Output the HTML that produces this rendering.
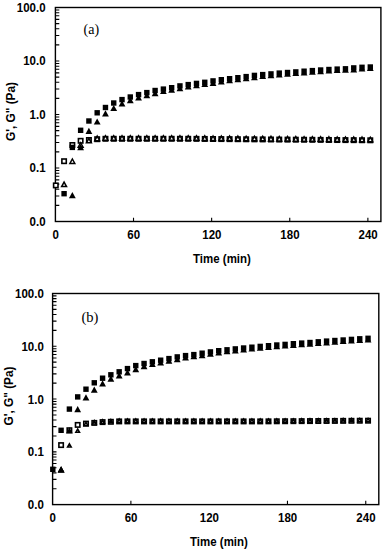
<!DOCTYPE html>
<html><head><meta charset="utf-8"><title>G' G'' vs time</title>
<style>html,body{margin:0;padding:0;background:#fff;}body{width:385px;height:550px;overflow:hidden;}svg{display:block;}</style>
</head><body>
<svg width="385" height="550" viewBox="0 0 385 550">
<style>.t{font-family:"Liberation Sans",sans-serif;font-weight:bold;font-size:11.5px;fill:#000}.s{font-family:"Liberation Serif",serif;font-size:14px;fill:#000}</style>
<path d="M55.40 205.39h3.9 M55.40 195.97h3.9 M55.40 189.29h3.9 M55.40 184.11h3.9 M55.40 179.87h3.9 M55.40 176.29h3.9 M55.40 173.18h3.9 M55.40 170.45h3.9 M55.40 168.00h3.9 M55.40 151.89h3.9 M55.40 142.47h3.9 M55.40 135.79h3.9 M55.40 130.61h3.9 M55.40 126.37h3.9 M55.40 122.79h3.9 M55.40 119.68h3.9 M55.40 116.95h3.9 M55.40 114.50h3.9 M55.40 98.39h3.9 M55.40 88.97h3.9 M55.40 82.29h3.9 M55.40 77.11h3.9 M55.40 72.87h3.9 M55.40 69.29h3.9 M55.40 66.18h3.9 M55.40 63.45h3.9 M55.40 61.00h3.9 M55.40 44.89h3.9 M55.40 35.47h3.9 M55.40 28.79h3.9 M55.40 23.61h3.9 M55.40 19.37h3.9 M55.40 15.79h3.9 M55.40 12.68h3.9 M55.40 9.95h3.9 M133.52 221.50v-3.8 M211.64 221.50v-3.8 M289.76 221.50v-3.8 M367.88 221.50v-3.8" stroke="#000" stroke-width="1.1" fill="none"/>
<rect x="55.40" y="7.50" width="325.50" height="214.00" fill="none" stroke="#000" stroke-width="1.4"/>
<text class="t" transform="translate(45.60,221.30) scale(1,1.1)" x="0" y="3.96" text-anchor="end">0.0</text>
<text class="t" transform="translate(45.60,167.80) scale(1,1.1)" x="0" y="3.96" text-anchor="end">0.1</text>
<text class="t" transform="translate(45.60,114.30) scale(1,1.1)" x="0" y="3.96" text-anchor="end">1.0</text>
<text class="t" transform="translate(45.60,60.80) scale(1,1.1)" x="0" y="3.96" text-anchor="end">10.0</text>
<text class="t" transform="translate(45.60,7.30) scale(1,1.1)" x="0" y="3.96" text-anchor="end">100.0</text>
<text class="t" transform="translate(55.60,234.60) scale(1,1.1)" x="0" y="3.96" text-anchor="middle">0</text>
<text class="t" transform="translate(133.72,234.60) scale(1,1.1)" x="0" y="3.96" text-anchor="middle">60</text>
<text class="t" transform="translate(211.84,234.60) scale(1,1.1)" x="0" y="3.96" text-anchor="middle">120</text>
<text class="t" transform="translate(289.96,234.60) scale(1,1.1)" x="0" y="3.96" text-anchor="middle">180</text>
<text class="t" transform="translate(368.08,234.60) scale(1,1.1)" x="0" y="3.96" text-anchor="middle">240</text>
<text class="t" transform="translate(193.00,258.80) scale(1,1.1)" x="0" y="3.96" text-anchor="start">Time (min)</text>
<text class="t" style="font-size:11.8px" x="0" y="0" text-anchor="middle" transform="translate(15.00,111.50) rotate(-90) scale(1,1.13)">G', G" (Pa)</text>
<text class="s" style="font-size:14px" x="83.60" y="33.80">(a)</text>
<g fill="#fff" stroke="#000" stroke-width="1.6"><rect x="53.60" y="183.20" width="4.40" height="4.40"/><rect x="61.88" y="159.00" width="4.40" height="4.40"/><rect x="70.15" y="142.80" width="4.40" height="4.40"/><rect x="78.43" y="138.60" width="4.40" height="4.40"/><rect x="86.70" y="137.80" width="4.40" height="4.40"/><rect x="94.98" y="137.00" width="4.40" height="4.40"/><rect x="103.26" y="136.60" width="4.40" height="4.40"/><rect x="111.53" y="136.60" width="4.40" height="4.40"/><rect x="119.81" y="136.60" width="4.40" height="4.40"/><rect x="128.08" y="136.60" width="4.40" height="4.40"/><rect x="136.36" y="136.60" width="4.40" height="4.40"/><rect x="144.64" y="136.60" width="4.40" height="4.40"/><rect x="152.91" y="136.60" width="4.40" height="4.40"/><rect x="161.19" y="136.60" width="4.40" height="4.40"/><rect x="169.46" y="136.60" width="4.40" height="4.40"/><rect x="177.74" y="136.60" width="4.40" height="4.40"/><rect x="186.02" y="136.60" width="4.40" height="4.40"/><rect x="194.29" y="136.67" width="4.40" height="4.40"/><rect x="202.57" y="136.74" width="4.40" height="4.40"/><rect x="210.84" y="136.80" width="4.40" height="4.40"/><rect x="219.12" y="136.87" width="4.40" height="4.40"/><rect x="227.40" y="136.94" width="4.40" height="4.40"/><rect x="235.67" y="137.01" width="4.40" height="4.40"/><rect x="243.95" y="137.08" width="4.40" height="4.40"/><rect x="252.22" y="137.15" width="4.40" height="4.40"/><rect x="260.50" y="137.21" width="4.40" height="4.40"/><rect x="268.78" y="137.28" width="4.40" height="4.40"/><rect x="277.05" y="137.35" width="4.40" height="4.40"/><rect x="285.33" y="137.42" width="4.40" height="4.40"/><rect x="293.60" y="137.49" width="4.40" height="4.40"/><rect x="301.88" y="137.55" width="4.40" height="4.40"/><rect x="310.16" y="137.62" width="4.40" height="4.40"/><rect x="318.43" y="137.69" width="4.40" height="4.40"/><rect x="326.71" y="137.76" width="4.40" height="4.40"/><rect x="334.98" y="137.83" width="4.40" height="4.40"/><rect x="343.26" y="137.90" width="4.40" height="4.40"/><rect x="351.54" y="137.96" width="4.40" height="4.40"/><rect x="359.81" y="138.03" width="4.40" height="4.40"/><rect x="368.09" y="138.10" width="4.40" height="4.40"/></g>
<g fill="#fff" stroke="#000" stroke-width="1.5" stroke-linejoin="miter"><polygon points="61.63,186.55 66.53,186.55 64.08,182.05"/><polygon points="69.90,163.45 74.80,163.45 72.35,158.95"/><polygon points="78.18,147.25 83.08,147.25 80.63,142.75"/><polygon points="86.45,142.85 91.35,142.85 88.90,138.35"/><polygon points="94.73,140.65 99.63,140.65 97.18,136.15"/><polygon points="103.01,140.25 107.91,140.25 105.46,135.75"/><polygon points="111.28,140.25 116.18,140.25 113.73,135.75"/><polygon points="119.56,140.25 124.46,140.25 122.01,135.75"/><polygon points="127.83,140.25 132.73,140.25 130.28,135.75"/><polygon points="136.11,140.25 141.01,140.25 138.56,135.75"/><polygon points="144.39,140.25 149.29,140.25 146.84,135.75"/><polygon points="152.66,140.25 157.56,140.25 155.11,135.75"/><polygon points="160.94,140.25 165.84,140.25 163.39,135.75"/><polygon points="169.21,140.25 174.11,140.25 171.66,135.75"/><polygon points="177.49,140.25 182.39,140.25 179.94,135.75"/><polygon points="185.77,140.25 190.67,140.25 188.22,135.75"/><polygon points="194.04,140.32 198.94,140.32 196.49,135.82"/><polygon points="202.32,140.39 207.22,140.39 204.77,135.89"/><polygon points="210.59,140.45 215.49,140.45 213.04,135.95"/><polygon points="218.87,140.52 223.77,140.52 221.32,136.02"/><polygon points="227.15,140.59 232.05,140.59 229.60,136.09"/><polygon points="235.42,140.66 240.32,140.66 237.87,136.16"/><polygon points="243.70,140.73 248.60,140.73 246.15,136.23"/><polygon points="251.97,140.80 256.87,140.80 254.42,136.30"/><polygon points="260.25,140.86 265.15,140.86 262.70,136.36"/><polygon points="268.53,140.93 273.43,140.93 270.98,136.43"/><polygon points="276.80,141.00 281.70,141.00 279.25,136.50"/><polygon points="285.08,141.07 289.98,141.07 287.53,136.57"/><polygon points="293.35,141.14 298.25,141.14 295.80,136.64"/><polygon points="301.63,141.20 306.53,141.20 304.08,136.70"/><polygon points="309.91,141.27 314.81,141.27 312.36,136.77"/><polygon points="318.18,141.34 323.08,141.34 320.63,136.84"/><polygon points="326.46,141.41 331.36,141.41 328.91,136.91"/><polygon points="334.73,141.48 339.63,141.48 337.18,136.98"/><polygon points="343.01,141.55 347.91,141.55 345.46,137.05"/><polygon points="351.29,141.61 356.19,141.61 353.74,137.11"/><polygon points="359.56,141.68 364.46,141.68 362.01,137.18"/><polygon points="367.84,141.75 372.74,141.75 370.29,137.25"/></g>
<g fill="#000"><rect x="61.38" y="191.00" width="5.4" height="5.4"/><rect x="69.65" y="144.70" width="5.4" height="5.4"/><rect x="77.93" y="127.60" width="5.4" height="5.4"/><rect x="86.20" y="118.30" width="5.4" height="5.4"/><rect x="94.48" y="110.10" width="5.4" height="5.4"/><rect x="102.76" y="104.80" width="5.4" height="5.4"/><rect x="111.03" y="100.30" width="5.4" height="5.4"/><rect x="119.31" y="96.90" width="5.4" height="5.4"/><rect x="127.58" y="94.30" width="5.4" height="5.4"/><rect x="135.86" y="91.90" width="5.4" height="5.4"/><rect x="144.14" y="89.90" width="5.4" height="5.4"/><rect x="152.41" y="87.80" width="5.4" height="5.4"/><rect x="160.69" y="86.40" width="5.4" height="5.4"/><rect x="168.96" y="85.00" width="5.4" height="5.4"/><rect x="177.24" y="83.20" width="5.4" height="5.4"/><rect x="185.52" y="81.90" width="5.4" height="5.4"/><rect x="193.79" y="80.70" width="5.4" height="5.4"/><rect x="202.07" y="79.60" width="5.4" height="5.4"/><rect x="210.34" y="78.20" width="5.4" height="5.4"/><rect x="218.62" y="77.00" width="5.4" height="5.4"/><rect x="226.90" y="76.00" width="5.4" height="5.4"/><rect x="235.17" y="75.00" width="5.4" height="5.4"/><rect x="243.45" y="73.90" width="5.4" height="5.4"/><rect x="251.72" y="72.70" width="5.4" height="5.4"/><rect x="260.00" y="71.90" width="5.4" height="5.4"/><rect x="268.28" y="71.20" width="5.4" height="5.4"/><rect x="276.55" y="70.40" width="5.4" height="5.4"/><rect x="284.83" y="69.80" width="5.4" height="5.4"/><rect x="293.10" y="69.20" width="5.4" height="5.4"/><rect x="301.38" y="68.50" width="5.4" height="5.4"/><rect x="309.66" y="67.90" width="5.4" height="5.4"/><rect x="317.93" y="67.30" width="5.4" height="5.4"/><rect x="326.21" y="66.80" width="5.4" height="5.4"/><rect x="334.48" y="66.40" width="5.4" height="5.4"/><rect x="342.76" y="66.10" width="5.4" height="5.4"/><rect x="351.04" y="65.20" width="5.4" height="5.4"/><rect x="359.31" y="64.60" width="5.4" height="5.4"/><rect x="367.59" y="64.30" width="5.4" height="5.4"/></g>
<g fill="#000"><polygon points="68.95,198.30 75.75,198.30 72.35,192.10"/><polygon points="77.23,150.30 84.03,150.30 80.63,144.10"/><polygon points="85.50,133.90 92.30,133.90 88.90,127.70"/><polygon points="93.78,124.60 100.58,124.60 97.18,118.40"/><polygon points="102.06,116.40 108.86,116.40 105.46,110.20"/><polygon points="110.33,111.10 117.13,111.10 113.73,104.90"/><polygon points="118.61,106.60 125.41,106.60 122.01,100.40"/><polygon points="126.88,103.20 133.68,103.20 130.28,97.00"/><polygon points="135.16,100.60 141.96,100.60 138.56,94.40"/><polygon points="143.44,98.20 150.24,98.20 146.84,92.00"/><polygon points="151.71,96.20 158.51,96.20 155.11,90.00"/><polygon points="159.99,94.10 166.79,94.10 163.39,87.90"/><polygon points="168.26,92.70 175.06,92.70 171.66,86.50"/><polygon points="176.54,91.30 183.34,91.30 179.94,85.10"/><polygon points="184.82,89.50 191.62,89.50 188.22,83.30"/><polygon points="193.09,88.20 199.89,88.20 196.49,82.00"/><polygon points="201.37,87.00 208.17,87.00 204.77,80.80"/><polygon points="209.64,85.90 216.44,85.90 213.04,79.70"/><polygon points="217.92,84.50 224.72,84.50 221.32,78.30"/><polygon points="226.20,83.30 233.00,83.30 229.60,77.10"/><polygon points="234.47,82.30 241.27,82.30 237.87,76.10"/><polygon points="242.75,81.30 249.55,81.30 246.15,75.10"/><polygon points="251.02,80.20 257.82,80.20 254.42,74.00"/><polygon points="259.30,79.00 266.10,79.00 262.70,72.80"/><polygon points="267.58,78.20 274.38,78.20 270.98,72.00"/><polygon points="275.85,77.50 282.65,77.50 279.25,71.30"/><polygon points="284.13,76.70 290.93,76.70 287.53,70.50"/><polygon points="292.40,76.10 299.20,76.10 295.80,69.90"/><polygon points="300.68,75.50 307.48,75.50 304.08,69.30"/><polygon points="308.96,74.80 315.76,74.80 312.36,68.60"/><polygon points="317.23,74.20 324.03,74.20 320.63,68.00"/><polygon points="325.51,73.60 332.31,73.60 328.91,67.40"/><polygon points="333.78,73.10 340.58,73.10 337.18,66.90"/><polygon points="342.06,72.70 348.86,72.70 345.46,66.50"/><polygon points="350.34,72.40 357.14,72.40 353.74,66.20"/><polygon points="358.61,71.50 365.41,71.50 362.01,65.30"/><polygon points="366.89,70.90 373.69,70.90 370.29,64.70"/></g>
<path d="M52.60 488.71h3.9 M52.60 479.42h3.9 M52.60 472.83h3.9 M52.60 467.71h3.9 M52.60 463.53h3.9 M52.60 460.00h3.9 M52.60 456.94h3.9 M52.60 454.24h3.9 M52.60 451.83h3.9 M52.60 435.94h3.9 M52.60 426.64h3.9 M52.60 420.05h3.9 M52.60 414.94h3.9 M52.60 410.76h3.9 M52.60 407.22h3.9 M52.60 404.16h3.9 M52.60 401.46h3.9 M52.60 399.05h3.9 M52.60 383.16h3.9 M52.60 373.87h3.9 M52.60 367.28h3.9 M52.60 362.16h3.9 M52.60 357.98h3.9 M52.60 354.45h3.9 M52.60 351.39h3.9 M52.60 348.69h3.9 M52.60 346.27h3.9 M52.60 330.39h3.9 M52.60 321.09h3.9 M52.60 314.50h3.9 M52.60 309.39h3.9 M52.60 305.21h3.9 M52.60 301.67h3.9 M52.60 298.61h3.9 M52.60 295.91h3.9 M130.89 504.60v-3.8 M287.46 504.60v-3.8 M365.75 504.60v-3.8" stroke="#000" stroke-width="1.1" fill="none"/>
<rect x="52.60" y="293.50" width="326.20" height="211.10" fill="none" stroke="#000" stroke-width="1.4"/>
<text class="t" transform="translate(43.80,504.90) scale(1,1.1)" x="0" y="3.96" text-anchor="end">0.0</text>
<text class="t" transform="translate(43.80,452.13) scale(1,1.1)" x="0" y="3.96" text-anchor="end">0.1</text>
<text class="t" transform="translate(43.80,399.35) scale(1,1.1)" x="0" y="3.96" text-anchor="end">1.0</text>
<text class="t" transform="translate(43.80,346.57) scale(1,1.1)" x="0" y="3.96" text-anchor="end">10.0</text>
<text class="t" transform="translate(43.80,293.80) scale(1,1.1)" x="0" y="3.96" text-anchor="end">100.0</text>
<text class="t" transform="translate(52.80,517.70) scale(1,1.1)" x="0" y="3.96" text-anchor="middle">0</text>
<text class="t" transform="translate(131.09,517.70) scale(1,1.1)" x="0" y="3.96" text-anchor="middle">60</text>
<text class="t" transform="translate(209.38,517.70) scale(1,1.1)" x="0" y="3.96" text-anchor="middle">120</text>
<text class="t" transform="translate(287.66,517.70) scale(1,1.1)" x="0" y="3.96" text-anchor="middle">180</text>
<text class="t" transform="translate(365.95,517.70) scale(1,1.1)" x="0" y="3.96" text-anchor="middle">240</text>
<text class="t" transform="translate(190.00,541.50) scale(1,1.1)" x="0" y="3.96" text-anchor="start">Time (min)</text>
<text class="t" style="font-size:11.8px" x="0" y="0" text-anchor="middle" transform="translate(13.10,396.00) rotate(-90) scale(1,1.13)">G', G" (Pa)</text>
<text class="s" style="font-size:14.6px" x="81.40" y="321.60">(b)</text>
<g fill="#fff" stroke="#000" stroke-width="1.6"><rect x="58.90" y="442.90" width="4.40" height="4.40"/><rect x="67.19" y="428.00" width="4.40" height="4.40"/><rect x="75.49" y="422.70" width="4.40" height="4.40"/><rect x="83.78" y="421.40" width="4.40" height="4.40"/><rect x="92.08" y="420.70" width="4.40" height="4.40"/><rect x="100.38" y="419.90" width="4.40" height="4.40"/><rect x="108.67" y="419.60" width="4.40" height="4.40"/><rect x="116.97" y="419.20" width="4.40" height="4.40"/><rect x="125.26" y="419.20" width="4.40" height="4.40"/><rect x="133.56" y="419.20" width="4.40" height="4.40"/><rect x="141.86" y="419.20" width="4.40" height="4.40"/><rect x="150.15" y="419.20" width="4.40" height="4.40"/><rect x="158.45" y="419.20" width="4.40" height="4.40"/><rect x="166.74" y="419.20" width="4.40" height="4.40"/><rect x="175.04" y="419.20" width="4.40" height="4.40"/><rect x="183.34" y="419.20" width="4.40" height="4.40"/><rect x="191.63" y="419.20" width="4.40" height="4.40"/><rect x="199.93" y="419.20" width="4.40" height="4.40"/><rect x="208.22" y="419.20" width="4.40" height="4.40"/><rect x="216.52" y="419.20" width="4.40" height="4.40"/><rect x="224.82" y="419.20" width="4.40" height="4.40"/><rect x="233.11" y="419.20" width="4.40" height="4.40"/><rect x="241.41" y="419.20" width="4.40" height="4.40"/><rect x="249.70" y="419.20" width="4.40" height="4.40"/><rect x="258.00" y="419.20" width="4.40" height="4.40"/><rect x="266.30" y="419.15" width="4.40" height="4.40"/><rect x="274.59" y="419.09" width="4.40" height="4.40"/><rect x="282.89" y="419.04" width="4.40" height="4.40"/><rect x="291.18" y="418.98" width="4.40" height="4.40"/><rect x="299.48" y="418.93" width="4.40" height="4.40"/><rect x="307.78" y="418.88" width="4.40" height="4.40"/><rect x="316.07" y="418.82" width="4.40" height="4.40"/><rect x="324.37" y="418.77" width="4.40" height="4.40"/><rect x="332.66" y="418.72" width="4.40" height="4.40"/><rect x="340.96" y="418.66" width="4.40" height="4.40"/><rect x="349.26" y="418.61" width="4.40" height="4.40"/><rect x="357.55" y="418.55" width="4.40" height="4.40"/><rect x="365.85" y="418.50" width="4.40" height="4.40"/></g>
<g fill="#fff" stroke="#000" stroke-width="1.5" stroke-linejoin="miter"><polygon points="59.25,471.15 62.95,471.15 61.10,467.85"/><polygon points="67.54,447.05 71.24,447.05 69.39,443.75"/><polygon points="75.84,432.35 79.54,432.35 77.69,429.05"/><polygon points="84.13,425.65 87.83,425.65 85.98,422.35"/><polygon points="92.43,423.95 96.13,423.95 94.28,420.65"/><polygon points="100.73,423.15 104.43,423.15 102.58,419.85"/><polygon points="109.02,422.85 112.72,422.85 110.87,419.55"/><polygon points="117.32,422.45 121.02,422.45 119.17,419.15"/><polygon points="125.61,422.45 129.31,422.45 127.46,419.15"/><polygon points="133.91,422.45 137.61,422.45 135.76,419.15"/><polygon points="142.21,422.45 145.91,422.45 144.06,419.15"/><polygon points="150.50,422.45 154.20,422.45 152.35,419.15"/><polygon points="158.80,422.45 162.50,422.45 160.65,419.15"/><polygon points="167.09,422.45 170.79,422.45 168.94,419.15"/><polygon points="175.39,422.45 179.09,422.45 177.24,419.15"/><polygon points="183.69,422.45 187.39,422.45 185.54,419.15"/><polygon points="191.98,422.45 195.68,422.45 193.83,419.15"/><polygon points="200.28,422.45 203.98,422.45 202.13,419.15"/><polygon points="208.57,422.45 212.27,422.45 210.42,419.15"/><polygon points="216.87,422.45 220.57,422.45 218.72,419.15"/><polygon points="225.17,422.45 228.87,422.45 227.02,419.15"/><polygon points="233.46,422.45 237.16,422.45 235.31,419.15"/><polygon points="241.76,422.45 245.46,422.45 243.61,419.15"/><polygon points="250.05,422.45 253.75,422.45 251.90,419.15"/><polygon points="258.35,422.45 262.05,422.45 260.20,419.15"/><polygon points="266.65,422.40 270.35,422.40 268.50,419.10"/><polygon points="274.94,422.34 278.64,422.34 276.79,419.04"/><polygon points="283.24,422.29 286.94,422.29 285.09,418.99"/><polygon points="291.53,422.23 295.23,422.23 293.38,418.93"/><polygon points="299.83,422.18 303.53,422.18 301.68,418.88"/><polygon points="308.13,422.13 311.83,422.13 309.98,418.83"/><polygon points="316.42,422.07 320.12,422.07 318.27,418.77"/><polygon points="324.72,422.02 328.42,422.02 326.57,418.72"/><polygon points="333.01,421.97 336.71,421.97 334.86,418.67"/><polygon points="341.31,421.91 345.01,421.91 343.16,418.61"/><polygon points="349.61,421.86 353.31,421.86 351.46,418.56"/><polygon points="357.90,421.80 361.60,421.80 359.75,418.50"/><polygon points="366.20,421.75 369.90,421.75 368.05,418.45"/></g>
<g fill="#000"><rect x="50.10" y="466.60" width="5.4" height="5.4"/><rect x="58.40" y="427.60" width="5.4" height="5.4"/><rect x="66.69" y="406.40" width="5.4" height="5.4"/><rect x="74.99" y="394.20" width="5.4" height="5.4"/><rect x="83.28" y="386.50" width="5.4" height="5.4"/><rect x="91.58" y="380.10" width="5.4" height="5.4"/><rect x="99.88" y="375.50" width="5.4" height="5.4"/><rect x="108.17" y="372.10" width="5.4" height="5.4"/><rect x="116.47" y="369.10" width="5.4" height="5.4"/><rect x="124.76" y="365.90" width="5.4" height="5.4"/><rect x="133.06" y="362.90" width="5.4" height="5.4"/><rect x="141.36" y="360.80" width="5.4" height="5.4"/><rect x="149.65" y="359.10" width="5.4" height="5.4"/><rect x="157.95" y="357.50" width="5.4" height="5.4"/><rect x="166.24" y="355.90" width="5.4" height="5.4"/><rect x="174.54" y="354.20" width="5.4" height="5.4"/><rect x="182.84" y="352.90" width="5.4" height="5.4"/><rect x="191.13" y="351.90" width="5.4" height="5.4"/><rect x="199.43" y="350.50" width="5.4" height="5.4"/><rect x="207.72" y="349.20" width="5.4" height="5.4"/><rect x="216.02" y="348.00" width="5.4" height="5.4"/><rect x="224.32" y="347.10" width="5.4" height="5.4"/><rect x="232.61" y="346.20" width="5.4" height="5.4"/><rect x="240.91" y="345.30" width="5.4" height="5.4"/><rect x="249.20" y="344.50" width="5.4" height="5.4"/><rect x="257.50" y="343.70" width="5.4" height="5.4"/><rect x="265.80" y="343.00" width="5.4" height="5.4"/><rect x="274.09" y="342.30" width="5.4" height="5.4"/><rect x="282.39" y="341.70" width="5.4" height="5.4"/><rect x="290.68" y="341.00" width="5.4" height="5.4"/><rect x="298.98" y="340.40" width="5.4" height="5.4"/><rect x="307.28" y="339.80" width="5.4" height="5.4"/><rect x="315.57" y="339.10" width="5.4" height="5.4"/><rect x="323.87" y="338.40" width="5.4" height="5.4"/><rect x="332.16" y="337.80" width="5.4" height="5.4"/><rect x="340.46" y="337.30" width="5.4" height="5.4"/><rect x="348.76" y="336.70" width="5.4" height="5.4"/><rect x="357.05" y="336.10" width="5.4" height="5.4"/><rect x="365.35" y="335.60" width="5.4" height="5.4"/></g>
<g fill="#000"><polygon points="57.70,472.60 64.50,472.60 61.10,466.40"/><polygon points="65.99,433.40 72.79,433.40 69.39,427.20"/><polygon points="74.29,412.20 81.09,412.20 77.69,406.00"/><polygon points="82.58,400.50 89.38,400.50 85.98,394.30"/><polygon points="90.88,392.80 97.68,392.80 94.28,386.60"/><polygon points="99.18,386.40 105.98,386.40 102.58,380.20"/><polygon points="107.47,381.80 114.27,381.80 110.87,375.60"/><polygon points="115.77,378.40 122.57,378.40 119.17,372.20"/><polygon points="124.06,375.40 130.86,375.40 127.46,369.20"/><polygon points="132.36,372.20 139.16,372.20 135.76,366.00"/><polygon points="140.66,369.20 147.46,369.20 144.06,363.00"/><polygon points="148.95,367.10 155.75,367.10 152.35,360.90"/><polygon points="157.25,365.40 164.05,365.40 160.65,359.20"/><polygon points="165.54,363.80 172.34,363.80 168.94,357.60"/><polygon points="173.84,362.20 180.64,362.20 177.24,356.00"/><polygon points="182.14,360.50 188.94,360.50 185.54,354.30"/><polygon points="190.43,359.20 197.23,359.20 193.83,353.00"/><polygon points="198.73,358.20 205.53,358.20 202.13,352.00"/><polygon points="207.02,356.80 213.82,356.80 210.42,350.60"/><polygon points="215.32,355.50 222.12,355.50 218.72,349.30"/><polygon points="223.62,354.30 230.42,354.30 227.02,348.10"/><polygon points="231.91,353.40 238.71,353.40 235.31,347.20"/><polygon points="240.21,352.50 247.01,352.50 243.61,346.30"/><polygon points="248.50,351.60 255.30,351.60 251.90,345.40"/><polygon points="256.80,350.80 263.60,350.80 260.20,344.60"/><polygon points="265.10,350.00 271.90,350.00 268.50,343.80"/><polygon points="273.39,349.30 280.19,349.30 276.79,343.10"/><polygon points="281.69,348.60 288.49,348.60 285.09,342.40"/><polygon points="289.98,348.00 296.78,348.00 293.38,341.80"/><polygon points="298.28,347.30 305.08,347.30 301.68,341.10"/><polygon points="306.58,346.70 313.38,346.70 309.98,340.50"/><polygon points="314.87,346.10 321.67,346.10 318.27,339.90"/><polygon points="323.17,345.40 329.97,345.40 326.57,339.20"/><polygon points="331.46,344.70 338.26,344.70 334.86,338.50"/><polygon points="339.76,344.10 346.56,344.10 343.16,337.90"/><polygon points="348.06,343.60 354.86,343.60 351.46,337.40"/><polygon points="356.35,343.00 363.15,343.00 359.75,336.80"/><polygon points="364.65,342.40 371.45,342.40 368.05,336.20"/></g>
<polygon points="57.6,472.8 64.6,472.8 61.1,466.2"/>
</svg>
</body></html>
